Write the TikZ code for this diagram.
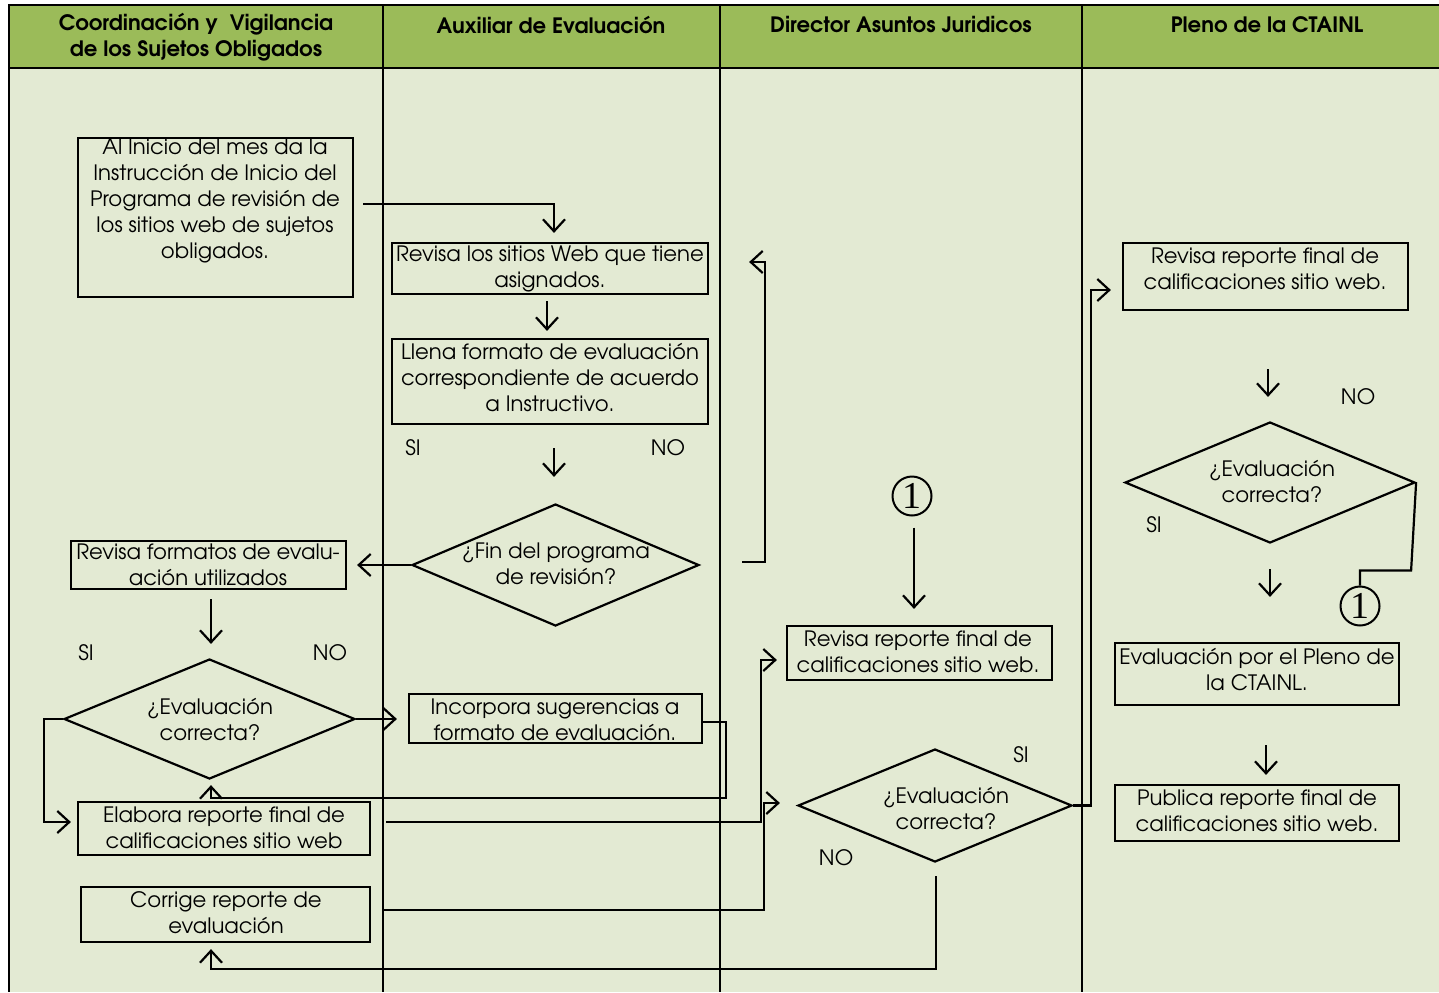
\documentclass[tikz,border=0pt]{standalone}
\usepackage{fontspec}
\setmainfont{texgyreadventor}[Extension=.otf,UprightFont=*-regular,BoldFont=*-bold,ItalicFont=*-italic,BoldItalicFont=*-bolditalic]
\newfontfamily\numfont{Liberation Serif}
\usetikzlibrary{arrows.meta,calc,shapes.geometric}
\definecolor{hdr}{HTML}{9BBB59}
\definecolor{bodyc}{HTML}{E3EAD3}
\begin{document}
\begin{tikzpicture}[x=0.5pt,y=-0.5pt,
  box/.style={draw,line width=1.1pt,rectangle,inner sep=0pt},
  dia/.style={draw,line width=1.1pt,diamond,inner sep=0pt},
  txt/.style={font=\fontsize{10.6}{13}\selectfont,align=center,inner sep=0pt},
  hd/.style={font=\bfseries\fontsize{10.6}{13}\selectfont,align=center,inner sep=0pt},
  lbl/.style={font=\fontsize{10.6}{13}\selectfont,inner sep=0pt},
  conn/.style={circle,draw,line width=1pt,minimum size=19.5pt,inner sep=0pt,font=\numfont\fontsize{19}{19}\selectfont},
  arr/.style={draw,line width=1.1pt,-{Straight Barb[length=6pt,width=11pt,line width=1.1pt]}},
  ln/.style={draw,line width=1.1pt}]
\useasboundingbox (0,0) rectangle (1439,992);
\fill[white] (0,0) rectangle (1439,992);
\fill[bodyc] (9,68) rectangle (1439,992);
\fill[hdr] (9,5) rectangle (1439,68);
\draw[line width=1.1pt] (1439,5) -- (9,5) -- (9,992);
\draw[line width=1.1pt] (9,68) -- (1439,68);
\draw[line width=1.1pt] (383,5) -- (383,992);
\draw[line width=1.1pt] (720,5) -- (720,992);
\draw[line width=1.1pt] (1082,5) -- (1082,992);
% headers
\node[hd] (h1) at (196,37.5) {Coordinación y\ \ Vigilancia\\de los Sujetos Obligados};
\node[hd] (h2) at (551,24.5) {Auxiliar de Evaluación};
\node[hd] (h3) at (901,24.5) {Director Asuntos Juridicos};
\node[hd] (h4) at (1267,24.5) {Pleno de la CTAINL};
% boxes
\node[box,minimum width=137.5pt,minimum height=79.5pt] (A) at (215.5,217.5) {};
\node[box,minimum width=158pt,minimum height=25.5pt] (B) at (550,268.5) {};
\node[box,minimum width=158pt,minimum height=42.5pt] (C) at (550,381.5) {};
\node[box,minimum width=137.5pt,minimum height=24pt] (E) at (208.5,565) {};
\node[box,minimum width=146.5pt,minimum height=24.5pt] (G) at (555.5,718.5) {};
\node[box,minimum width=146pt,minimum height=26.5pt] (H) at (224,828.5) {};
\node[box,minimum width=144.5pt,minimum height=27.5pt] (I) at (225.5,914.5) {};
\node[box,minimum width=132.5pt,minimum height=27pt] (J) at (919.5,653) {};
\node[box,minimum width=142.5pt,minimum height=33.5pt] (M) at (1265.5,276.5) {};
\node[box,minimum width=142pt,minimum height=31pt] (P) at (1257,674) {};
\node[box,minimum width=142pt,minimum height=28pt] (Q) at (1257,813) {};
% diamonds
\node[dia,minimum width=143.5pt,minimum height=61pt] (D) at (555.5,565) {};
\node[dia,minimum width=145.5pt,minimum height=60pt] (F) at (209.5,719) {};
\node[dia,minimum width=137pt,minimum height=56.5pt] (K) at (935,805.5) {};
\node[dia,minimum width=145pt,minimum height=60.5pt] (N) at (1270,482.5) {};
% connectors circles
\node[conn] (L) at (912,496) {1};
\node[conn] (O) at (1360,606) {1};
% texts
\node[txt] (At) at (215,201) {Al Inicio del mes da la\\Instrucción de Inicio del\\Programa de revisión de\\los sitios web de sujetos\\obligados.};
\node[txt] (Bt) at (550,269) {Revisa los sitios Web que tiene\\asignados.};
\node[txt] (Ct) at (550,377.5) {Llena formato de evaluación\\correspondiente de acuerdo\\a Instructivo.};
\node[txt] (Dt) at (556,563.5) {¿Fin del programa\\de revisión?};
\node[txt] (Et) at (208,565) {Revisa formatos de evalu-\\ación utilizados};
\node[txt] (Ft) at (210,719.5) {¿Evaluación\\correcta?};
\node[txt] (Gt) at (555,719.5) {Incorpora sugerencias a\\formato de evaluación.};
\node[txt] (Ht) at (224,827.5) {Elabora reporte final de\\calificaciones sitio web};
\node[txt] (It) at (226,912.5) {Corrige reporte de\\evaluación};
\node[txt] (Jt) at (918,651.5) {Revisa reporte final de\\calificaciones sitio web.};
\node[txt] (Kt) at (946,808) {¿Evaluación\\correcta?};
\node[txt] (Mt) at (1265,269) {Revisa reporte final de\\calificaciones sitio web.};
\node[txt] (Nt) at (1272,482) {¿Evaluación\\correcta?};
\node[txt] (Pt) at (1257,669.5) {Evaluación por el Pleno de\\la CTAINL.};
\node[txt] (Qt) at (1257,810.5) {Publica reporte final de\\calificaciones sitio web.};
% labels
\node[lbl] (s1) at (413,448) {SI};
\node[lbl] (n1) at (668,448) {NO};
\node[lbl] (s2) at (86,653) {SI};
\node[lbl] (n2) at (330,653) {NO};
\node[lbl] (s3) at (1021,755) {SI};
\node[lbl] (n3) at (836,858) {NO};
\node[lbl] (n4) at (1358,397) {NO};
\node[lbl] (s4) at (1154,525) {SI};
% arrows
\draw[arr] ($(A.east)+(9,-13.5)$) -| ($(B.north)+(4,-9)$);
\draw[arr] ($(B.south)+(-3,6)$) -- ($(C.north)+(-3,-7)$);
\draw[arr] ($(C.south)+(4,23)$) -- ($(D.north)+(-1.5,-26)$);
\draw[arr] (D.west) -- ($(E.east)+(10,0)$);
\draw[arr] ($(D.east)+(42,-3)$) -| ($(B.east)+(56,-6.5)$) -- ($(B.east)+(40,-6.5)$);
\draw[arr] ($(E.south)+(2.5,9)$) -- ($(F.north)+(1.5,-14)$);
\draw[arr] (F.east) -- ($(F.east -| G.west)+(-11,0)$);
\draw[arr] (F.west) -- ++(-19,0) |- ($(H.west)+(-6,-6.5)$);
\draw[arr] ($(G.east)+(0,3.5)$) -- ++(23,0) |- ($(F.south)+(1.5,18)$) -- ($(F.south)+(1.5,5)$);
\draw[arr] ($(H.east)+(15,-6.5)$) -| ($(J.west)+(-25,7)$) -- ($(J.west)+(-9,7)$);
\draw[arr] ($(I.east)+(13,-4.5)$) -| ($(K.west)+(-33,-2.5)$) -- ($(K.west)+(-17,-2.5)$);
\draw[arr] ($(L.south)+(2,11)$) -- ($(J.north)+(-5.5,-16)$);
\draw[arr] ($(K.south)+(1,13)$) |- ($(I.south)+(-14.5,26)$) -- ($(I.south)+(-14.5,6)$);
\draw[arr] (K.east) -- ++(18,0) |- ($(M.west)+(-11,13.5)$);
\draw[arr] ($(M.south)+(2.5,58)$) -- ($(N.north)+(-2,-24)$);
\draw[arr] ($(N.south)+(0,25)$) -- ($(P.north)+(13,-45)$);
\draw[ln] (N.east) -- ++(-5,88) -| (O.north);
\draw[arr] ($(P.south)+(9,39)$) -- ($(Q.north)+(9,-9)$);
\end{tikzpicture}
\end{document}
